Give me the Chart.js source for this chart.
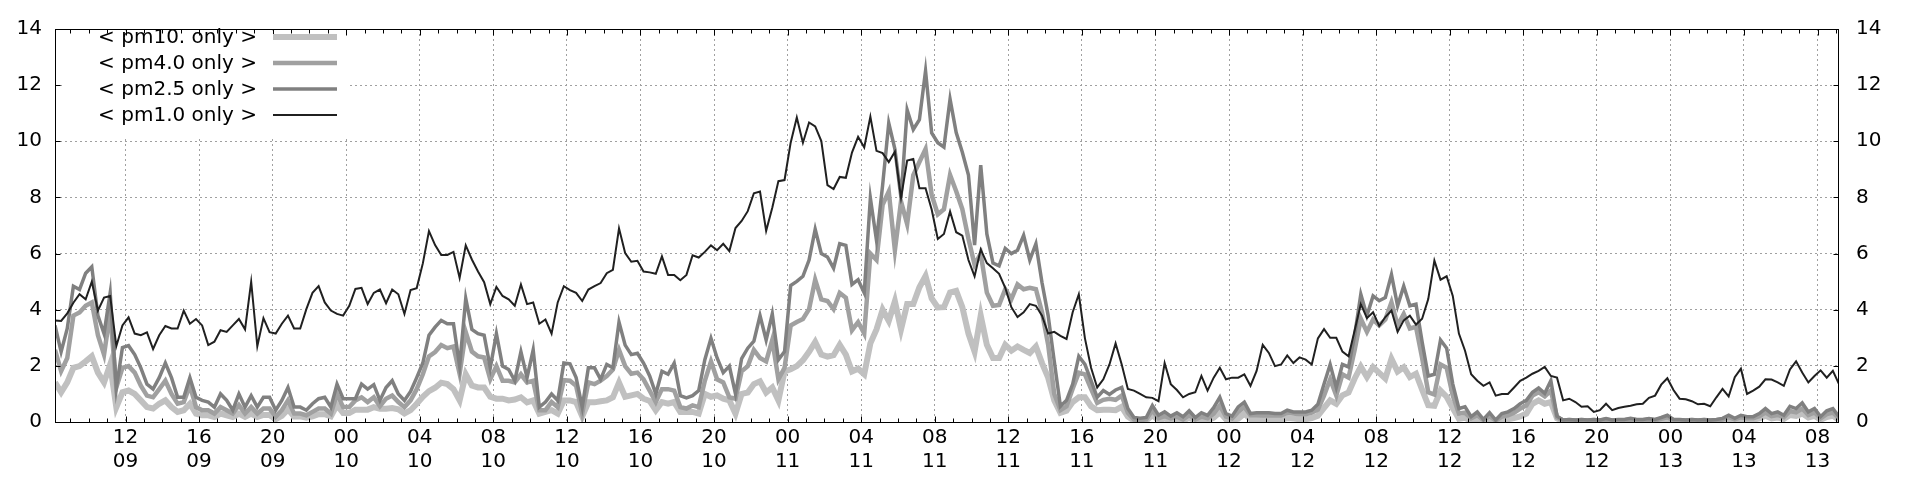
<!DOCTYPE html>
<html>
<head>
<meta charset="utf-8">
<script src="https://cdn.jsdelivr.net/npm/chart.js@4"></script>
<style>
  html, body { margin: 0; padding: 0; background: #fff; }
  #wrap { width: 1920px; height: 480px; }
</style>
</head>
<body>
<div id="wrap"><canvas id="grafico" width="1920" height="480"></canvas></div>
<script>
// hours counted from 00:00 on day 09, one sample every 20 min
const startHour = 8 + 10 / 60;
const stepHours = 1 / 3;
const xMin = startHour;
const xMax = startHour + 97;

const tickHours = [12, 16, 20, 24, 28, 32, 36, 40, 44, 48, 52, 56, 60, 64, 68, 72, 76, 80, 84, 88, 92, 96, 100, 104];
const tickLabels = [
  ['12', '09'], ['16', '09'], ['20', '09'], ['00', '10'], ['04', '10'], ['08', '10'],
  ['12', '10'], ['16', '10'], ['20', '10'], ['00', '11'], ['04', '11'], ['08', '11'],
  ['12', '11'], ['16', '11'], ['20', '11'], ['00', '12'], ['04', '12'], ['08', '12'],
  ['12', '12'], ['16', '12'], ['20', '12'], ['00', '13'], ['04', '13'], ['08', '13']
];

const seriesNames = ['< pm10. only >', '< pm4.0 only >', '< pm2.5 only >', '< pm1.0 only >'];

const pm10 = [
  1.41, 1.06, 1.41, 1.93, 1.99, 2.16, 2.34, 1.76, 1.41, 2.05, 0.53, 1.06,
  1.12, 1.0, 0.77, 0.53, 0.48, 0.65, 0.77, 0.53, 0.36, 0.42, 0.65, 0.3,
  0.24, 0.24, 0.18, 0.3, 0.24, 0.18, 0.3, 0.18, 0.3, 0.18, 0.25, 0.25,
  0.1, 0.22, 0.45, 0.2, 0.2, 0.15, 0.2, 0.28, 0.28, 0.2, 0.6, 0.32,
  0.32,
  0.44, 0.44, 0.44, 0.53, 0.47, 0.47, 0.5, 0.45, 0.3, 0.42, 0.65, 0.9,
  1.1, 1.22, 1.4, 1.35, 1.17, 0.77, 1.7, 1.3, 1.23, 1.23, 0.9, 0.83,
  0.83, 0.77, 0.8, 0.88, 0.7, 0.77, 0.3, 0.36, 0.42, 0.3, 0.77, 0.77,
  0.71, 0.2, 0.7, 0.7, 0.74, 0.77, 0.88, 1.4, 0.9, 0.95, 1.0, 0.83,
  0.75, 0.42, 0.71, 0.65, 0.71, 0.36, 0.36, 0.36, 0.3, 1.0, 0.9, 0.95,
  0.83, 0.77, 0.3, 1.0, 1.05, 1.35, 1.45, 1.05, 1.23, 0.77, 1.8, 1.88,
  1.99, 2.2, 2.5, 2.85, 2.4, 2.33, 2.38, 2.75, 2.4, 1.8, 1.9, 1.7,
  2.8, 3.3, 4.0, 3.6, 4.3, 3.3, 4.2, 4.2, 4.8, 5.2, 4.4, 4.08,
  4.09, 4.61, 4.67, 4.09, 3.15, 2.51, 3.79, 2.75, 2.28, 2.28, 2.75, 2.54,
  2.69, 2.57, 2.46, 2.69, 2.1, 1.58, 0.77, 0.33, 0.4, 0.71, 0.88, 0.88,
  0.56, 0.42, 0.44, 0.44, 0.42, 0.54, 0.19, 0.05, 0.03, 0.05, 0.25, 0.06,
  0.12, 0.06, 0.1, 0.05, 0.15, 0.05, 0.1, 0.06, 0.15, 0.35, 0.1, 0.07,
  0.12, 0.3, 0.1, 0.1, 0.08, 0.08, 0.08, 0.08, 0.14, 0.12, 0.1, 0.1,
  0.14, 0.22, 0.5, 0.77, 0.65, 0.95, 1.05, 1.55, 1.97, 1.6, 1.95, 1.75,
  1.55, 2.25, 1.8, 1.95, 1.6, 1.72, 1.15, 0.6, 0.58, 1.12, 0.9, 0.5,
  0.12, 0.15, 0.05, 0.1, 0.03, 0.08, 0.03, 0.07, 0.1, 0.14, 0.2, 0.3,
  0.65, 0.77, 0.65, 0.71, 0.13, 0.03, 0.04, 0.03, 0.04, 0.03, 0.04, 0.03,
  0.05, 0.03, 0.04, 0.04, 0.06, 0.04, 0.04, 0.05, 0.04, 0.07, 0.11, 0.04,
  0.04, 0.03, 0.04, 0.03, 0.04, 0.03, 0.04, 0.06, 0.11, 0.06, 0.11, 0.08,
  0.08, 0.13, 0.22, 0.13, 0.16, 0.11, 0.25, 0.22, 0.3, 0.16, 0.22, 0.08,
  0.18, 0.22, 0.08
];

const pm4 = [
  2.57, 1.81, 2.28, 3.79, 3.9, 4.14, 4.26, 3.09, 2.4, 3.9, 1.23, 1.93,
  1.99, 1.76, 1.29, 0.94, 0.88, 1.17, 1.47, 1.0, 0.65, 0.71, 1.3, 0.53,
  0.42, 0.42, 0.3, 0.53, 0.42, 0.3, 0.6, 0.3, 0.53, 0.3, 0.48, 0.48,
  0.19, 0.42, 0.77, 0.3, 0.3, 0.24, 0.36, 0.48, 0.48, 0.3, 1.0, 0.53,
  0.53,
  0.77, 0.88, 0.71, 0.88, 0.56, 0.83, 0.94, 0.71, 0.53, 0.77, 1.17, 1.7,
  2.34, 2.49, 2.74, 2.63, 2.69, 1.72, 3.2, 2.51, 2.34, 2.3, 1.52, 1.99,
  1.47, 1.47, 1.41, 1.7, 1.41, 1.47, 0.42, 0.42, 0.71, 0.53, 1.49, 1.47,
  1.29, 0.3, 1.41, 1.35, 1.47, 1.64, 1.87, 2.57, 1.99, 1.72, 1.76, 1.52,
  1.12, 0.71, 1.17, 1.17, 1.12, 0.53, 0.48, 0.59, 0.53, 1.47, 2.16, 1.52,
  1.41, 0.88, 0.83, 1.81, 1.99, 2.57, 2.28, 2.16, 2.92, 1.52, 1.93, 3.44,
  3.56, 3.67, 4.02, 5.07, 4.37, 4.31, 4.02, 4.6, 4.43, 3.27, 3.56, 3.15,
  6.0, 5.77, 7.74, 8.21, 6.12, 7.86, 7.05, 8.79, 9.26, 9.72, 8.09, 7.4,
  7.58, 8.8, 8.22, 7.58, 6.53, 5.6, 6.0, 4.61, 4.14, 4.17, 4.73, 4.38,
  4.9, 4.73, 4.78, 4.73, 3.91, 2.75, 1.0, 0.42, 0.56, 1.18, 1.76, 1.7,
  1.18, 0.68, 0.79, 0.83, 0.79, 0.94, 0.33, 0.09, 0.07, 0.09, 0.42, 0.13,
  0.21, 0.13, 0.19, 0.09, 0.24, 0.09, 0.19, 0.13, 0.3, 0.59, 0.19, 0.13,
  0.36, 0.54, 0.24, 0.24, 0.23, 0.23, 0.23, 0.23, 0.33, 0.3, 0.28, 0.28,
  0.33, 0.44, 0.94, 1.52, 0.94, 1.7, 1.58, 2.57, 3.68, 3.21, 3.65, 3.44,
  3.65, 4.26, 3.44, 3.85, 3.33, 3.39, 2.28, 1.06, 0.98, 2.05, 1.93, 0.94,
  0.3, 0.33, 0.13, 0.24, 0.07, 0.21, 0.05, 0.19, 0.24, 0.33, 0.48, 0.59,
  0.94, 1.06, 0.91, 1.12, 0.16, 0.05, 0.06, 0.05, 0.06, 0.05, 0.06, 0.05,
  0.08, 0.05, 0.06, 0.06, 0.09, 0.06, 0.06, 0.08, 0.06, 0.11, 0.17, 0.06,
  0.06, 0.05, 0.06, 0.05, 0.06, 0.05, 0.06, 0.09, 0.17, 0.09, 0.17, 0.13,
  0.13, 0.21, 0.34, 0.21, 0.25, 0.17, 0.39, 0.34, 0.48, 0.25, 0.34, 0.13,
  0.28, 0.34, 0.13
];

const pm25 = [
  3.44, 2.5, 3.33, 4.84, 4.72, 5.3, 5.53, 3.79, 3.15, 4.6, 1.2, 2.65,
  2.72, 2.4, 1.93, 1.35, 1.17, 1.58, 2.1, 1.58, 0.88, 0.88, 1.58, 0.88,
  0.77, 0.71, 0.53, 1.0, 0.77, 0.42, 1.0, 0.53, 0.94, 0.53, 0.88, 0.88,
  0.42, 0.77, 1.23, 0.53, 0.53, 0.42, 0.65, 0.83, 0.88, 0.53, 1.35, 0.83,
  0.83,
  0.83, 1.35, 1.17, 1.33, 0.77, 1.23, 1.47, 1.0, 0.77, 1.09, 1.58, 2.1,
  3.09, 3.38, 3.62, 3.5, 3.5, 1.99, 4.4, 3.3, 3.15, 3.09, 1.93, 3.15,
  1.99, 1.87, 1.47, 2.5, 1.58, 2.57, 0.53, 0.71, 1.0, 0.77, 2.1, 2.07,
  1.58, 0.53, 1.93, 1.93, 1.52, 2.05, 1.93, 3.56, 2.74, 2.4, 2.45, 2.1,
  1.64, 1.0, 1.81, 1.7, 2.1, 0.94, 0.86, 0.94, 1.12, 2.22, 2.98, 2.28,
  1.76, 1.99, 1.0, 2.26, 2.63, 2.88, 3.79, 2.92, 3.85, 2.22, 2.51, 4.86,
  5.01, 5.19, 5.77, 6.87, 6.0, 5.88, 5.48, 6.35, 6.29, 4.9, 5.07, 4.6,
  7.98, 6.47, 8.44, 10.65, 9.72, 7.98, 11.12, 10.42, 10.77, 12.51, 10.3, 9.95,
  9.79, 11.5, 10.31, 9.61, 8.8, 6.3, 9.15, 6.7, 5.66, 5.56, 6.18, 6.0,
  6.12, 6.65, 5.77, 6.35, 4.96, 3.79, 2.16, 0.56, 0.77, 1.35, 2.34, 2.05,
  1.47, 0.88, 1.12, 0.98, 1.14, 1.23, 0.48, 0.16, 0.13, 0.16, 0.59, 0.24,
  0.36, 0.21, 0.33, 0.19, 0.4, 0.16, 0.33, 0.24, 0.51, 0.88, 0.3, 0.21,
  0.54, 0.71, 0.3, 0.33, 0.33, 0.33, 0.3, 0.3, 0.42, 0.36, 0.36, 0.36,
  0.42, 0.63, 1.35, 2.05, 1.23, 2.05, 1.96, 3.1, 4.55, 3.79, 4.49, 4.32,
  4.43, 5.25, 4.14, 4.84, 4.14, 4.2, 2.86, 1.64, 1.7, 2.92, 2.63, 1.35,
  0.48, 0.54, 0.19, 0.36, 0.09, 0.33, 0.07, 0.3, 0.36, 0.48, 0.65, 0.77,
  1.06, 1.21, 1.02, 1.47, 0.21, 0.07, 0.09, 0.07, 0.09, 0.07, 0.09, 0.07,
  0.12, 0.07, 0.09, 0.09, 0.13, 0.09, 0.09, 0.12, 0.09, 0.16, 0.24, 0.09,
  0.09, 0.07, 0.09, 0.07, 0.09, 0.07, 0.09, 0.13, 0.24, 0.13, 0.24, 0.19,
  0.19, 0.3, 0.48, 0.3, 0.36, 0.24, 0.56, 0.48, 0.68, 0.36, 0.48, 0.19,
  0.4, 0.48, 0.19
];

const pm1 = [
  3.62, 3.6, 3.87, 4.25, 4.55, 4.37, 5.0, 3.97, 4.43, 4.49, 2.7, 3.44,
  3.73, 3.15, 3.09, 3.19, 2.6, 3.09, 3.42, 3.33, 3.33, 3.97, 3.5, 3.67,
  3.44, 2.74, 2.86, 3.27, 3.21, 3.44, 3.67, 3.3, 5.0, 2.7, 3.7, 3.2,
  3.15, 3.5, 3.79, 3.33, 3.33, 4.02, 4.6, 4.84, 4.26, 3.97, 3.85, 3.79,
  4.14,
  4.74, 4.78, 4.2, 4.6, 4.72, 4.23, 4.72, 4.55, 3.85, 4.7, 4.77, 5.65,
  6.8, 6.3, 5.95, 5.95, 6.06, 5.13, 6.29, 5.79, 5.36, 4.98, 4.2, 4.81,
  4.49, 4.37, 4.14, 4.9, 4.2, 4.26, 3.5, 3.65, 3.15, 4.26, 4.84, 4.7,
  4.6, 4.31, 4.72, 4.84, 4.95, 5.3, 5.42, 6.9, 6.02, 5.71, 5.74, 5.36,
  5.33, 5.28, 5.9, 5.24, 5.24, 5.05, 5.24, 5.94, 5.86, 6.06, 6.29, 6.12,
  6.35, 6.09, 6.91, 7.16, 7.51, 8.15, 8.21, 6.81, 7.63, 8.58, 8.62, 9.95,
  10.85, 9.95, 10.67, 10.53, 10.01, 8.44, 8.3, 8.73, 8.7, 9.6, 10.16, 9.78,
  10.88, 9.66, 9.58, 9.26, 9.63, 7.98, 9.31, 9.37, 8.33, 8.33, 7.57, 6.52,
  6.7, 7.5, 6.76, 6.64, 5.77, 5.19, 6.15, 5.66, 5.48, 5.28, 4.78, 4.09,
  3.74, 3.91, 4.2, 4.14, 3.79, 3.15, 3.21, 3.07, 2.96, 3.91, 4.55, 2.98,
  1.93, 1.23, 1.52, 2.05, 2.8, 2.05, 1.18, 1.12, 1.0, 0.88, 0.86, 0.74,
  2.1, 1.35, 1.14, 0.88, 1.0, 1.06, 1.64, 1.12, 1.58, 1.93, 1.52, 1.58,
  1.58, 1.7, 1.29, 1.82, 2.75, 2.46, 1.99, 2.05, 2.37, 2.1, 2.3, 2.22,
  2.05, 2.98, 3.31, 3.0, 3.0, 2.51, 2.34, 3.27, 4.2, 3.7, 3.91, 3.42,
  3.74, 3.97, 3.21, 3.62, 3.79, 3.47, 3.68, 4.38, 5.75, 5.07, 5.19, 4.49,
  3.15, 2.54, 1.7, 1.47, 1.29, 1.41, 0.94, 1.0, 1.0, 1.23, 1.47, 1.58,
  1.72, 1.82, 1.96, 1.64, 1.58, 0.77, 0.83, 0.71, 0.54, 0.56, 0.36, 0.42,
  0.65, 0.42, 0.5, 0.54, 0.58, 0.63, 0.65, 0.86, 0.94, 1.33, 1.56, 1.14,
  0.83, 0.81, 0.74, 0.63, 0.65, 0.56, 0.88, 1.18, 0.91, 1.6, 1.9, 1.0,
  1.12, 1.26, 1.52, 1.51, 1.41, 1.29, 1.87, 2.16, 1.76, 1.41, 1.64, 1.84,
  1.58, 1.82, 1.35
];

function puntos(valores) {
  return valores.map((v, i) => ({ x: startHour + i * stepHours, y: v }));
}

const fuente = "'DejaVu Sans', sans-serif";

// frame, inward tick marks and the key, drawn like gnuplot does
const marcoGnuplot = {
  id: 'marcoGnuplot',
  afterDatasetsDraw(chart) {
    const ctx = chart.ctx;
    const a = chart.chartArea;
    const sx = chart.scales.x;
    const sy = chart.scales.y;
    const L = Math.round(a.left) + 0.5, R = Math.round(a.right) - 0.5;
    const T = Math.round(a.top) + 0.5, B = Math.round(a.bottom) + 0.5;

    ctx.save();
    // key box
    ctx.fillStyle = '#fff';
    ctx.fillRect(65, T + 1, 285, 106);

    ctx.strokeStyle = '#000';
    ctx.lineWidth = 1;
    ctx.beginPath();
    for (let h = Math.ceil(xMin); h <= xMax; h++) {
      const px = Math.round(sx.getPixelForValue(h)) + 0.5;
      const len = (h % 4 === 0) ? 6 : 4;
      ctx.moveTo(px, B); ctx.lineTo(px, B - len);
      ctx.moveTo(px, T); ctx.lineTo(px, T + len);
    }
    for (let v = 0; v <= 14; v += 2) {
      const py = Math.round(sy.getPixelForValue(v)) + 0.5;
      ctx.moveTo(L, py); ctx.lineTo(L + 5, py);
      ctx.moveTo(R, py); ctx.lineTo(R - 5, py);
    }
    ctx.stroke();
    ctx.strokeRect(L, T, R - L, B - T);

    // key entries
    ctx.font = '20px ' + fuente;
    ctx.textAlign = 'right';
    ctx.textBaseline = 'alphabetic';
    chart.data.datasets.slice().reverse().forEach((ds, i) => {
      const yy = 37 + i * 26;
      ctx.fillStyle = '#000';
      ctx.fillText(seriesNames[i], 257, yy + 5.5);
      ctx.strokeStyle = ds.borderColor;
      ctx.lineWidth = ds.borderWidth;
      ctx.beginPath();
      ctx.moveTo(273, yy);
      ctx.lineTo(337, yy);
      ctx.stroke();
    });
    ctx.restore();
  }
};

Chart.defaults.font.family = fuente;
Chart.defaults.font.size = 20;
Chart.defaults.color = '#000';

const ctx = document.getElementById('grafico').getContext('2d');
new Chart(ctx, {
  type: 'line',
  data: {
    datasets: [
      { label: seriesNames[3], data: puntos(pm1), borderColor: '#202020', borderWidth: 2, order: 0 },
      { label: seriesNames[2], data: puntos(pm25), borderColor: '#808080', borderWidth: 3.5, order: 1 },
      { label: seriesNames[1], data: puntos(pm4), borderColor: '#a0a0a0', borderWidth: 4.5, order: 2 },
      { label: seriesNames[0], data: puntos(pm10), borderColor: '#c0c0c0', borderWidth: 6, order: 3 }
    ]
  },
  options: {
    responsive: false,
    animation: false,
    parsing: false,
    elements: {
      point: { radius: 0 },
      line: { tension: 0, fill: false }
    },
    layout: { padding: { top: 21, left: 0, right: 0, bottom: 0 } },
    plugins: {
      legend: { display: false },
      tooltip: { enabled: false }
    },
    scales: {
      x: {
        type: 'linear',
        min: xMin,
        max: xMax,
        afterBuildTicks: function(scale) {
          scale.ticks = tickHours.map(h => ({ value: h }));
        },
        afterFit: function(scale) { scale.height = 58; },
        ticks: {
          autoSkip: false,
          maxRotation: 0,
          padding: 4,
          callback: function(value, index) { return tickLabels[index]; }
        },
        grid: { color: '#a0a0a0', lineWidth: 1, drawTicks: false },
        border: { display: false, dash: [2, 3] }
      },
      y: {
        position: 'left',
        min: 0,
        max: 14,
        afterFit: function(scale) { scale.width = 55; },
        ticks: { stepSize: 2, padding: 13 },
        grid: { color: '#a0a0a0', lineWidth: 1, drawTicks: false },
        border: { display: false, dash: [2, 3] }
      },
      y2: {
        position: 'right',
        min: 0,
        max: 14,
        afterFit: function(scale) { scale.width = 81; },
        ticks: { stepSize: 2, padding: 17 },
        grid: { display: false, drawTicks: false },
        border: { display: false }
      }
    }
  },
  plugins: [marcoGnuplot]
});
</script>
</body>
</html>
